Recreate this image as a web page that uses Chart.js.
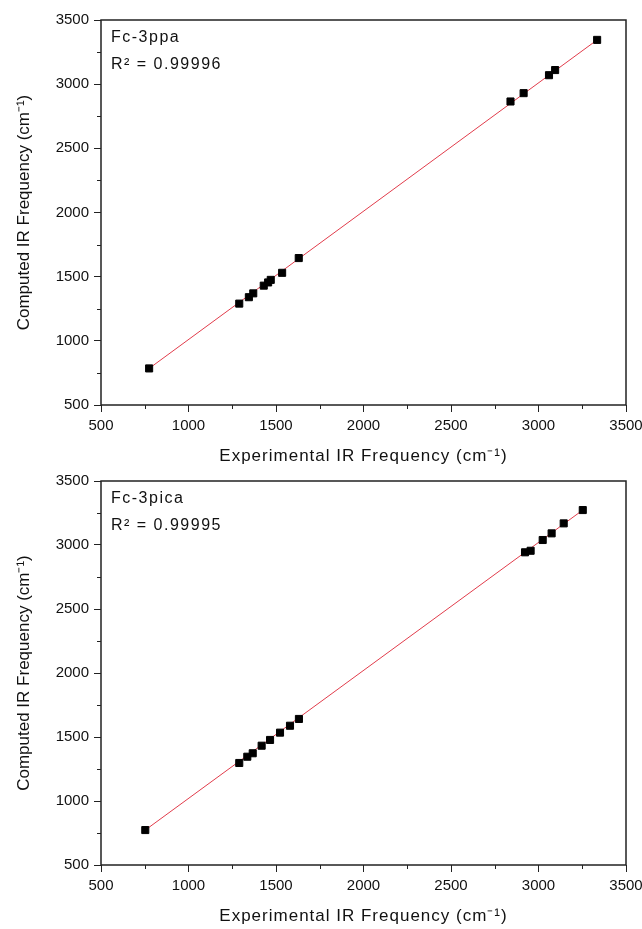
<!DOCTYPE html>
<html>
<head>
<meta charset="utf-8">
<script src="https://cdn.jsdelivr.net/npm/chart.js@4"></script>
<style>
  body { margin: 0; background: #fff; }
  .box { position: relative; width: 642px; }
</style>
</head>
<body>
<div class="box" style="height:470px"><canvas id="topChart"></canvas></div>
<div class="box" style="height:459px"><canvas id="bottomChart"></canvas></div>
<script>
// Fc-3ppa (top panel)
const ppaExp  = [775, 1290, 1345, 1370, 1430, 1455, 1470, 1535, 1630, 2840, 2915, 3060, 3095, 3335];
const ppaCalc = [785, 1290, 1340, 1370, 1430, 1455, 1475, 1530, 1645, 2865, 2930, 3070, 3110, 3345];
const ppaFitX = [775, 3335];
const ppaFitY = [785, 3345];

// Fc-3pica (bottom panel)
const picaExp  = [753, 1290, 1336, 1367, 1418, 1466, 1523, 1580, 1631, 2923, 2955, 3024, 3075, 3144, 3253];
const picaCalc = [773, 1297, 1346, 1373, 1432, 1477, 1534, 1588, 1641, 2943, 2955, 3039, 3091, 3169, 3273];
const picaFitX = [753, 3253];
const picaFitY = [773, 3273];

const axisMin = 500;
const axisMax = 3500;
const majorStep = 500;
const minorStep = 250;

const xTitle = 'Experimental IR Frequency (cm\u207B\u00B9)';
const yTitle = 'Computed IR Frequency (cm\u207B\u00B9)';

const fontFam = "'Liberation Sans', Arial, sans-serif";

const toPts = (xs, ys) => xs.map((x, i) => ({x: x, y: ys[i]}));
const isMajor = v => (v - axisMin) % majorStep === 0;

// frame, minor ticks, x title, name + R² text
const extras = {
  id: 'extras',
  afterDraw(chart) {
    const ctx = chart.ctx;
    const a = chart.chartArea;
    ctx.save();
    ctx.strokeStyle = '#222';
    ctx.lineWidth = 1.5;
    ctx.strokeRect(a.left, a.top, a.right - a.left, a.bottom - a.top);

    ctx.lineWidth = 1;
    ctx.beginPath();
    const xs = chart.scales.x, ys = chart.scales.y;
    for (let v = axisMin; v <= axisMax; v += minorStep) {
      if (isMajor(v)) continue;
      const px = Math.round(xs.getPixelForValue(v)) + 0.5;
      ctx.moveTo(px, a.bottom); ctx.lineTo(px, a.bottom + 4);
      const py = Math.round(ys.getPixelForValue(v)) + 0.5;
      ctx.moveTo(a.left, py); ctx.lineTo(a.left - 4, py);
    }
    ctx.stroke();

    ctx.fillStyle = '#111';
    ctx.letterSpacing = '1px';
    ctx.font = '17px ' + fontFam;
    ctx.textAlign = 'center';
    ctx.textBaseline = 'middle';
    ctx.fillText(xTitle, (a.left + a.right) / 2, a.bottom + 51);

    const txt = chart.options.plugins.extras;
    ctx.letterSpacing = '1.5px';
    ctx.font = '16px ' + fontFam;
    ctx.textAlign = 'left';
    ctx.textBaseline = 'alphabetic';
    ctx.fillText(txt.name, a.left + 10, a.top + 22);
    ctx.fillText(txt.r2, a.left + 10, a.top + 49);
    ctx.restore();
  }
};

function makeChart(id, expVals, calcVals, fitX, fitY, name, r2, padTop, xHeight) {
  return new Chart(document.getElementById(id), {
    type: 'scatter',
    data: {
      datasets: [
        {
          label: name,
          order: 0,
          data: toPts(expVals, calcVals),
          pointStyle: 'rect',
          pointRadius: 5,
          backgroundColor: '#000',
          borderColor: '#000',
          borderWidth: 1
        },
        {
          label: 'fit',
          order: 1,
          type: 'line',
          data: toPts(fitX, fitY),
          borderColor: 'rgb(225,60,75)',
          borderWidth: 1,
          pointRadius: 0,
          fill: false
        }
      ]
    },
    options: {
      responsive: true,
      maintainAspectRatio: false,
      animation: false,
      layout: { padding: { left: 10, right: 16, top: padTop, bottom: 0 } },
      plugins: {
        legend: { display: false },
        tooltip: { enabled: false },
        extras: { name: name, r2: r2 }
      },
      scales: {
        x: {
          type: 'linear',
          min: axisMin,
          max: axisMax,
          afterFit: s => {
            s.height = xHeight;
            s.paddingLeft = 0;
            s.paddingRight = 0;
          },
          border: { display: false },
          grid: {
            drawOnChartArea: false,
            tickLength: 7,
            tickColor: c => isMajor(c.tick.value) ? '#222' : 'transparent'
          },
          ticks: {
            stepSize: minorStep,
            autoSkip: false,
            maxRotation: 0,
            padding: 5,
            color: '#111',
            font: { size: 15, family: fontFam },
            callback: v => isMajor(v) ? v : ''
          }
        },
        y: {
          type: 'linear',
          min: axisMin,
          max: axisMax,
          afterFit: s => {
            s.width = 91;
            s.paddingTop = 0;
            s.paddingBottom = 0;
          },
          border: { display: false },
          grid: {
            drawOnChartArea: false,
            tickLength: 7,
            tickColor: c => isMajor(c.tick.value) ? '#222' : 'transparent'
          },
          ticks: {
            stepSize: minorStep,
            autoSkip: false,
            padding: 5,
            color: '#111',
            font: { size: 15, family: fontFam },
            callback: v => isMajor(v) ? v : ''
          },
          title: {
            display: true,
            text: yTitle,
            color: '#111',
            font: { size: 17, family: fontFam }
          }
        }
      }
    },
    plugins: [extras]
  });
}

makeChart('topChart', ppaExp, ppaCalc, ppaFitX, ppaFitY, 'Fc-3ppa', 'R\u00B2 = 0.99996', 20, 65);
makeChart('bottomChart', picaExp, picaCalc, picaFitX, picaFitY, 'Fc-3pica', 'R\u00B2 = 0.99995', 11, 64);
</script>
</body>
</html>
